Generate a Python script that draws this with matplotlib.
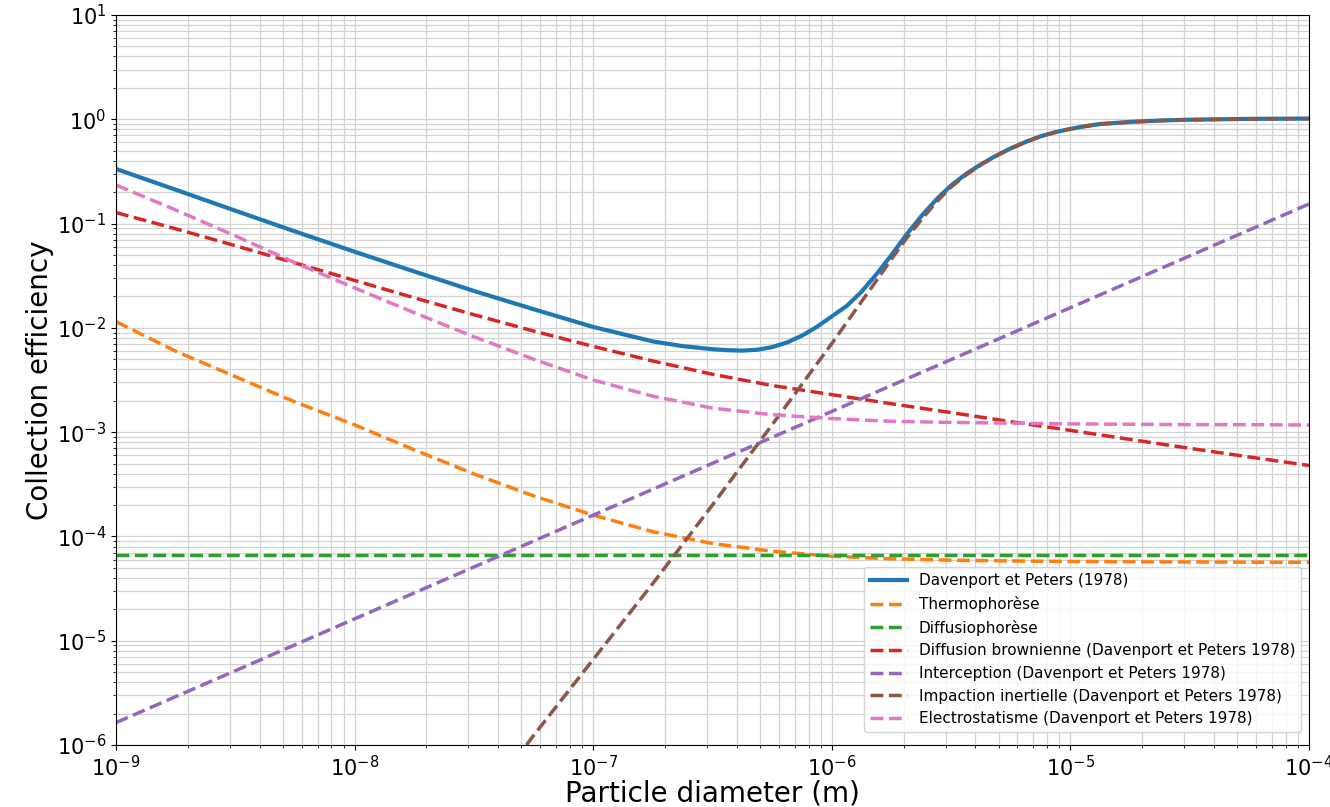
import matplotlib
matplotlib.use("Agg")
import matplotlib.pyplot as plt

# ---- data ----
d_grid = [1e-9, 1.78e-9, 3.16e-9, 5.62e-9, 1e-8, 1.78e-8, 3.16e-8, 5.62e-8,
          1e-7, 1.78e-7, 3.16e-7, 5.62e-7, 1e-6, 1.78e-6, 3.16e-6, 5.62e-6,
          1e-5, 1.78e-5, 3.16e-5, 5.62e-5, 1e-4]

d_total = [1e-9, 1.78e-9, 3.16e-9, 5.62e-9, 1e-8, 1.78e-8, 3.16e-8, 5.62e-8,
           1e-7, 1.78e-7, 2.37e-7, 3.16e-7, 3.65e-7, 4.22e-7, 4.87e-7, 5.62e-7,
           6.49e-7, 7.5e-7, 8.66e-7, 1e-6, 1.155e-6, 1.33e-6, 1.54e-6, 1.78e-6,
           2.05e-6, 2.37e-6, 2.74e-6, 3.16e-6, 3.65e-6, 4.22e-6, 4.87e-6, 5.62e-6,
           6.49e-6, 7.5e-6, 8.66e-6, 1e-5, 1.155e-5, 1.33e-5, 1.78e-5, 2.37e-5,
           3.16e-5, 5.62e-5, 1e-4]
eff_total = [0.334, 0.211, 0.133, 0.0841, 0.0537, 0.0347, 0.0226, 0.0151,
             0.0102, 0.00741, 0.00668, 0.00624, 0.00611, 0.00605, 0.00617, 0.00653,
             0.00724, 0.00841, 0.01023, 0.01288, 0.01622, 0.02213, 0.03273, 0.0501,
             0.0776, 0.1175, 0.1698, 0.2317, 0.2985, 0.370, 0.4467, 0.526,
             0.6067, 0.687, 0.7534, 0.809, 0.859, 0.900, 0.944, 0.973,
             0.991, 1.009, 1.016]

eff_thermo = [0.01146, 0.00597, 0.00341, 0.00195, 0.001175, 0.000676, 0.000398, 0.000245,
              0.00016, 0.000111, 8.55e-5, 7.21e-5, 6.46e-5, 6.1e-5, 5.92e-5, 5.82e-5,
              5.75e-5, 5.71e-5, 5.69e-5, 5.66e-5, 5.65e-5]

d_diffusio = [1e-9, 1e-4]
eff_diffusio = [6.6e-5, 6.6e-5]

eff_brown = [0.1274, 0.0891, 0.0614, 0.0420, 0.0285, 0.0194, 0.01337, 0.00933,
             0.00664, 0.00481, 0.00359, 0.0028, 0.00229, 0.00187, 0.00154, 0.00126,
             0.00104, 0.000851, 0.0007, 0.000578, 0.000479]

d_interc = [1e-9, 1e-8, 1e-7, 1e-6, 1e-5, 1e-4]
eff_interc = [1.64e-6, 1.62e-5, 1.6e-4, 1.58e-3, 1.56e-2, 0.154]

d_impact = [5.25e-8, 5.62e-8, 1e-7, 1.78e-7, 3.16e-7, 5.62e-7, 7.5e-7, 1e-6,
            1.33e-6, 1.54e-6, 1.78e-6, 2.05e-6, 2.37e-6, 2.74e-6, 3.16e-6, 3.65e-6,
            4.22e-6, 4.87e-6, 5.62e-6, 6.49e-6, 7.5e-6, 8.66e-6, 1e-5, 1.155e-5,
            1.33e-5, 1.78e-5, 2.37e-5, 3.16e-5, 5.62e-5, 1e-4]
eff_impact = [1.0e-6, 1.23e-6, 6.61e-6, 3.55e-5, 2.0e-4, 1.175e-3, 2.88e-3, 7.08e-3,
              0.01778, 0.02851, 0.0457, 0.0716, 0.1084, 0.1603, 0.2239, 0.2917,
              0.3656, 0.4436, 0.5236, 0.6039, 0.6839, 0.7516, 0.8072, 0.8570,
              0.8974, 0.9419, 0.9705, 0.9886, 1.007, 1.014]

eff_electro = [0.2344, 0.1349, 0.0762, 0.0422, 0.02415, 0.01396, 0.00822, 0.00501,
               0.00316, 0.00221, 0.0017, 0.00147, 0.00135, 0.00127, 0.00124, 0.00122,
               0.0012, 0.00119, 0.00118, 0.00118, 0.00117]

labels = ["Davenport et Peters (1978)", "Thermophorèse", "Diffusiophorèse",
          "Diffusion brownienne (Davenport et Peters 1978)",
          "Interception (Davenport et Peters 1978)",
          "Impaction inertielle (Davenport et Peters 1978)",
          "Electrostatisme (Davenport et Peters 1978)"]

fig = plt.figure(figsize=(13.3, 8.07), dpi=100)
ax = fig.add_axes([116/1330, 62/807, 1193/1330, 730/807])

ax.plot(d_total, eff_total, color="C0", lw=3, label=labels[0])
ax.plot(d_grid, eff_thermo, color="C1", lw=2.5, ls="--", label=labels[1])
ax.plot(d_diffusio, eff_diffusio, color="C2", lw=2.5, ls="--", label=labels[2])
ax.plot(d_grid, eff_brown, color="C3", lw=2.5, ls="--", label=labels[3])
ax.plot(d_interc, eff_interc, color="C4", lw=2.5, ls="--", label=labels[4])
ax.plot(d_impact, eff_impact, color="C5", lw=2.5, ls="--", label=labels[5])
ax.plot(d_grid, eff_electro, color="C6", lw=2.5, ls="--", label=labels[6])

ax.set_xscale("log")
ax.set_yscale("log")
ax.set_xlim(1e-9, 1e-4)
ax.set_ylim(1e-6, 1e1)
ax.grid(True, which="both", color="#d3d3d3", lw=0.9)
ax.set_axisbelow(True)
ax.tick_params(axis="both", which="major", labelsize=15)
ax.set_xlabel("Particle diameter (m)", fontsize=20, labelpad=0)
ax.set_ylabel("Collection efficiency", fontsize=20, labelpad=2)

ax.legend(loc="lower right", fontsize=11, handlelength=2.4,
          bbox_to_anchor=(1.0, 0.007))

fig.savefig("out.png", dpi=100)
